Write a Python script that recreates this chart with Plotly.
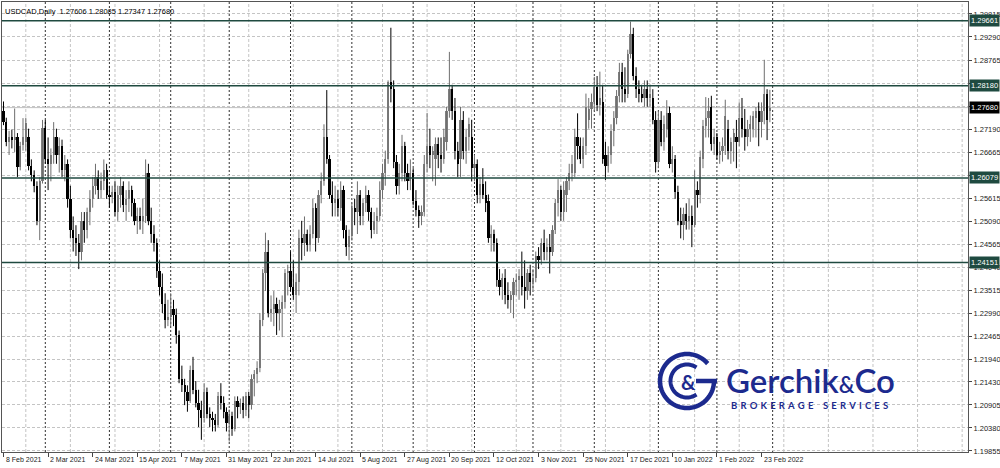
import math
import plotly.graph_objects as go

# ---------------- data ----------------
date_labels = ["8 Feb 2021", "2 Mar 2021", "24 Mar 2021", "15 Apr 2021", "7 May 2021",
               "31 May 2021", "22 Jun 2021", "14 Jul 2021", "5 Aug 2021", "27 Aug 2021",
               "20 Sep 2021", "12 Oct 2021", "3 Nov 2021", "25 Nov 2021", "17 Dec 2021",
               "10 Jan 2022", "1 Feb 2022", "23 Feb 2022"]
label_bars = [0, 16, 32, 48, 64, 80, 96, 112, 128, 144, 160, 176, 192, 208, 224, 240, 256, 272]
month_start_bars = [15, 38, 60, 81, 103, 125, 147, 169, 190, 212, 235, 256, 276]

open_ = [
    1.2760, 1.2735, 1.2690, 1.2702, 1.2695, 1.2700, 1.2632, 1.2683, 1.2690, 1.2700, 1.2635, 1.2615, 1.2590, 1.2510, 1.2600,
    1.2722, 1.2650, 1.2640, 1.2660, 1.2700, 1.2660, 1.2680, 1.2625, 1.2640, 1.2560, 1.2490, 1.2470, 1.2460, 1.2440, 1.2510, 1.2490, 1.2530, 1.2560, 1.2590, 1.2610, 1.2580, 1.2600, 1.2625,
    1.2570, 1.2565, 1.2575, 1.2530, 1.2570, 1.2590, 1.2545, 1.2560, 1.2580, 1.2550, 1.2510, 1.2520, 1.2510, 1.2520, 1.2620, 1.2510, 1.2480, 1.2460, 1.2395, 1.2360, 1.2320, 1.2285,
    1.2290, 1.2310, 1.2295, 1.2250, 1.2150, 1.2135, 1.2120, 1.2100, 1.2170, 1.2125, 1.2095, 1.2080, 1.2060, 1.2120, 1.2070, 1.2060, 1.2055, 1.2045, 1.2110, 1.2095, 1.2075,
    1.2050, 1.2065, 1.2035, 1.2100, 1.2085, 1.2095, 1.2080, 1.2110, 1.2090, 1.2150, 1.2160, 1.2175, 1.2285, 1.2390, 1.2440, 1.2300, 1.2310, 1.2320, 1.2300, 1.2310, 1.2325, 1.2390,
    1.2395, 1.2360, 1.2340, 1.2370, 1.2470, 1.2460, 1.2480, 1.2455, 1.2480, 1.2540, 1.2470, 1.2570, 1.2600, 1.2700, 1.2650, 1.2570, 1.2550, 1.2560, 1.2540, 1.2580, 1.2490, 1.2450,
    1.2475, 1.2540, 1.2530, 1.2570, 1.2520, 1.2550, 1.2570, 1.2530, 1.2490, 1.2510, 1.2520, 1.2580, 1.2620, 1.2650, 1.2826, 1.2810, 1.2645, 1.2590, 1.2620, 1.2680, 1.2620, 1.2600,
    1.2620, 1.2555, 1.2535, 1.2520, 1.2530, 1.2640, 1.2680, 1.2660, 1.2650, 1.2685, 1.2660, 1.2650, 1.2690, 1.2760, 1.2810, 1.2760, 1.2670, 1.2650, 1.2740, 1.2670, 1.2700, 1.2700,
    1.2630, 1.2640, 1.2570, 1.2595, 1.2570, 1.2555, 1.2470, 1.2480, 1.2460, 1.2375, 1.2360, 1.2380, 1.2340, 1.2330, 1.2340, 1.2370, 1.2375, 1.2385, 1.2360, 1.2350, 1.2390,
    1.2370, 1.2380, 1.2430, 1.2420, 1.2460, 1.2440, 1.2450, 1.2440, 1.2490, 1.2550, 1.2580, 1.2530, 1.2570, 1.2600, 1.2620, 1.2620, 1.2700, 1.2680, 1.2650, 1.2680, 1.2740, 1.2765,
    1.2780, 1.2815, 1.2775, 1.2780, 1.2660, 1.2635, 1.2660, 1.2715, 1.2745, 1.2795, 1.2850, 1.2810, 1.2800, 1.2890, 1.2935, 1.2840, 1.2810, 1.2800, 1.2790, 1.2810, 1.2790, 1.2790, 1.2740,
    1.2645, 1.2740, 1.2690, 1.2720, 1.2755, 1.2640, 1.2650, 1.2575, 1.2510, 1.2500, 1.2525, 1.2510, 1.2520, 1.2500, 1.2580, 1.2570, 1.2650, 1.2725, 1.2745, 1.2770, 1.2685,
    1.2700, 1.2660, 1.2670, 1.2680, 1.2720, 1.2670, 1.2690, 1.2700, 1.2690, 1.2745, 1.2720, 1.2700, 1.2720, 1.2720, 1.2745, 1.2760, 1.2735, 1.2760, 1.2800, 1.27606,
]
high = [
    1.2782, 1.2745, 1.2715, 1.2718, 1.2766, 1.2710, 1.2690, 1.2744, 1.2745, 1.2720, 1.2650, 1.2625, 1.2600, 1.2610, 1.2740,
    1.2740, 1.2700, 1.2675, 1.2735, 1.2720, 1.2700, 1.2695, 1.2660, 1.2650, 1.2590, 1.2520, 1.2500, 1.2480, 1.2530, 1.2530, 1.2540, 1.2580, 1.2610, 1.2640, 1.2625, 1.2620, 1.2650, 1.2640,
    1.2590, 1.2590, 1.2600, 1.2590, 1.2610, 1.2600, 1.2580, 1.2600, 1.2590, 1.2560, 1.2540, 1.2540, 1.2560, 1.2650, 1.2640, 1.2540, 1.2500, 1.2470, 1.2420, 1.2390, 1.2345, 1.2330,
    1.2345, 1.2330, 1.2310, 1.2260, 1.2180, 1.2150, 1.2135, 1.2180, 1.2200, 1.2145, 1.2125, 1.2100, 1.2140, 1.2130, 1.2085, 1.2075, 1.2070, 1.2120, 1.2140, 1.2110, 1.2085,
    1.2080, 1.2075, 1.2110, 1.2110, 1.2105, 1.2110, 1.2120, 1.2120, 1.2160, 1.2170, 1.2190, 1.2300, 1.2400, 1.2483, 1.2466, 1.2340, 1.2350, 1.2335, 1.2330, 1.2340, 1.2400, 1.2410,
    1.2440, 1.2420, 1.2390, 1.2490, 1.2510, 1.2520, 1.2490, 1.2500, 1.2560, 1.2550, 1.2580, 1.2620, 1.2730, 1.2808, 1.2660, 1.2600, 1.2590, 1.2580, 1.2600, 1.2590, 1.2500, 1.2490,
    1.2550, 1.2560, 1.2600, 1.2580, 1.2560, 1.2590, 1.2580, 1.2540, 1.2530, 1.2540, 1.2600, 1.2640, 1.2670, 1.2830, 1.2950, 1.2830, 1.2660, 1.2640, 1.2706, 1.2690, 1.2640, 1.2650,
    1.2630, 1.2580, 1.2545, 1.2545, 1.2660, 1.2756, 1.2720, 1.2680, 1.2700, 1.2700, 1.2700, 1.2720, 1.2770, 1.2895, 1.2820, 1.2790, 1.2690, 1.2770, 1.2760, 1.2720, 1.2745, 1.2740,
    1.2660, 1.2650, 1.2610, 1.2630, 1.2600, 1.2570, 1.2500, 1.2490, 1.2470, 1.2400, 1.2390, 1.2400, 1.2370, 1.2350, 1.2380, 1.2390, 1.2400, 1.2440, 1.2420, 1.2400, 1.2410,
    1.2400, 1.2440, 1.2450, 1.2470, 1.2490, 1.2470, 1.2480, 1.2500, 1.2560, 1.2605, 1.2590, 1.2600, 1.2610, 1.2640, 1.2660, 1.2720, 1.2755, 1.2700, 1.2700, 1.2800, 1.2790, 1.2800,
    1.2838, 1.2840, 1.2850, 1.2820, 1.2690, 1.2680, 1.2730, 1.2760, 1.2808, 1.2870, 1.2870, 1.2860, 1.2900, 1.2964, 1.2950, 1.2860, 1.2830, 1.2820, 1.2830, 1.2830, 1.2820, 1.2810, 1.2760,
    1.2760, 1.2760, 1.2750, 1.2785, 1.2770, 1.2680, 1.2660, 1.2590, 1.2540, 1.2540, 1.2550, 1.2560, 1.2545, 1.2625, 1.2600, 1.2670, 1.2740, 1.2792, 1.2790, 1.2795, 1.2720,
    1.2710, 1.2690, 1.2700, 1.2786, 1.2740, 1.2700, 1.2720, 1.2740, 1.2780, 1.2790, 1.2765, 1.2740, 1.2750, 1.2760, 1.2770, 1.2780, 1.2780, 1.2877, 1.2810, 1.28085,
]
low = [
    1.2728, 1.2680, 1.2660, 1.2675, 1.2667, 1.2610, 1.2625, 1.2670, 1.2670, 1.2625, 1.2600, 1.2575, 1.2500, 1.2466, 1.2595,
    1.2640, 1.2580, 1.2600, 1.2640, 1.2640, 1.2620, 1.2610, 1.2600, 1.2540, 1.2470, 1.2440, 1.2430, 1.2400, 1.2420, 1.2460, 1.2470, 1.2500, 1.2540, 1.2570, 1.2560, 1.2560, 1.2580, 1.2560,
    1.2540, 1.2550, 1.2520, 1.2510, 1.2540, 1.2530, 1.2510, 1.2530, 1.2520, 1.2500, 1.2480, 1.2490, 1.2480, 1.2505, 1.2500, 1.2460, 1.2440, 1.2380, 1.2340, 1.2300, 1.2265, 1.2270,
    1.2270, 1.2270, 1.2230, 1.2140, 1.2120, 1.2090, 1.2075, 1.2095, 1.2115, 1.2085, 1.2040, 1.2011, 1.2050, 1.2060, 1.2040, 1.2030, 1.2030, 1.2040, 1.2080, 1.2060, 1.2030,
    1.2007, 1.2020, 1.2030, 1.2060, 1.2070, 1.2060, 1.2065, 1.2060, 1.2080, 1.2110, 1.2140, 1.2165, 1.2270, 1.2350, 1.2290, 1.2280, 1.2270, 1.2250, 1.2260, 1.2245, 1.2310, 1.2340,
    1.2350, 1.2330, 1.2300, 1.2340, 1.2420, 1.2430, 1.2440, 1.2440, 1.2470, 1.2440, 1.2460, 1.2550, 1.2590, 1.2640, 1.2560, 1.2520, 1.2520, 1.2520, 1.2510, 1.2470, 1.2430, 1.2420,
    1.2465, 1.2500, 1.2480, 1.2500, 1.2500, 1.2530, 1.2510, 1.2470, 1.2480, 1.2480, 1.2510, 1.2560, 1.2590, 1.2640, 1.2780, 1.2630, 1.2570, 1.2570, 1.2600, 1.2600, 1.2580, 1.2580,
    1.2545, 1.2520, 1.2494, 1.2500, 1.2520, 1.2620, 1.2630, 1.2600, 1.2590, 1.2630, 1.2620, 1.2640, 1.2670, 1.2745, 1.2740, 1.2650, 1.2610, 1.2610, 1.2650, 1.2640, 1.2670, 1.2600,
    1.2600, 1.2550, 1.2550, 1.2560, 1.2530, 1.2460, 1.2440, 1.2440, 1.2360, 1.2340, 1.2330, 1.2320, 1.2310, 1.2300, 1.2288, 1.2340, 1.2330, 1.2340, 1.2310, 1.2330, 1.2340,
    1.2350, 1.2370, 1.2400, 1.2410, 1.2420, 1.2420, 1.2390, 1.2430, 1.2480, 1.2520, 1.2510, 1.2510, 1.2530, 1.2580, 1.2600, 1.2610, 1.2650, 1.2640, 1.2630, 1.2660, 1.2720, 1.2720,
    1.2760, 1.2760, 1.2750, 1.2640, 1.2603, 1.2620, 1.2640, 1.2680, 1.2730, 1.2780, 1.2780, 1.2780, 1.2790, 1.2880, 1.2830, 1.2790, 1.2780, 1.2780, 1.2770, 1.2770, 1.2770, 1.2730, 1.2620,
    1.2630, 1.2680, 1.2670, 1.2700, 1.2630, 1.2620, 1.2560, 1.2500, 1.2470, 1.2466, 1.2490, 1.2490, 1.2450, 1.2495, 1.2540, 1.2550, 1.2630, 1.2700, 1.2700, 1.2670, 1.2660,
    1.2650, 1.2640, 1.2645, 1.2660, 1.2650, 1.2640, 1.2645, 1.2630, 1.2680, 1.2700, 1.2670, 1.2680, 1.2690, 1.2700, 1.2700, 1.2680, 1.2700, 1.2730, 1.2694, 1.27347,
]
close_ = [
    1.2735, 1.2690, 1.2702, 1.2695, 1.2700, 1.2632, 1.2680, 1.2700, 1.2733, 1.2635, 1.2615, 1.2590, 1.2510, 1.2600, 1.2722,
    1.2650, 1.2640, 1.2660, 1.2700, 1.2660, 1.2680, 1.2625, 1.2640, 1.2560, 1.2490, 1.2470, 1.2460, 1.2440, 1.2510, 1.2490, 1.2530, 1.2560, 1.2590, 1.2610, 1.2580, 1.2600, 1.2625, 1.2570,
    1.2565, 1.2575, 1.2530, 1.2570, 1.2590, 1.2545, 1.2560, 1.2580, 1.2550, 1.2510, 1.2520, 1.2510, 1.2520, 1.2620, 1.2510, 1.2480, 1.2460, 1.2395, 1.2360, 1.2320, 1.2285, 1.2290,
    1.2310, 1.2295, 1.2250, 1.2150, 1.2135, 1.2120, 1.2100, 1.2170, 1.2125, 1.2095, 1.2080, 1.2060, 1.2120, 1.2070, 1.2060, 1.2055, 1.2045, 1.2110, 1.2095, 1.2075, 1.2050,
    1.2065, 1.2035, 1.2100, 1.2085, 1.2095, 1.2080, 1.2110, 1.2090, 1.2150, 1.2160, 1.2175, 1.2285, 1.2390, 1.2440, 1.2300, 1.2310, 1.2320, 1.2300, 1.2310, 1.2325, 1.2390, 1.2395,
    1.2360, 1.2340, 1.2370, 1.2470, 1.2460, 1.2480, 1.2455, 1.2480, 1.2540, 1.2470, 1.2570, 1.2600, 1.2700, 1.2650, 1.2570, 1.2550, 1.2560, 1.2540, 1.2580, 1.2490, 1.2450, 1.2475,
    1.2540, 1.2530, 1.2570, 1.2520, 1.2550, 1.2570, 1.2530, 1.2490, 1.2510, 1.2520, 1.2580, 1.2620, 1.2650, 1.2826, 1.2810, 1.2645, 1.2590, 1.2620, 1.2680, 1.2620, 1.2600, 1.2620,
    1.2555, 1.2535, 1.2520, 1.2530, 1.2640, 1.2680, 1.2660, 1.2670, 1.2685, 1.2660, 1.2650, 1.2700, 1.2760, 1.2810, 1.2760, 1.2670, 1.2640, 1.2740, 1.2670, 1.2700, 1.2730, 1.2630,
    1.2640, 1.2570, 1.2595, 1.2570, 1.2550, 1.2470, 1.2480, 1.2460, 1.2375, 1.2360, 1.2380, 1.2340, 1.2330, 1.2340, 1.2370, 1.2375, 1.2385, 1.2360, 1.2350, 1.2390, 1.2370,
    1.2380, 1.2430, 1.2420, 1.2460, 1.2440, 1.2450, 1.2440, 1.2490, 1.2550, 1.2580, 1.2530, 1.2580, 1.2600, 1.2620, 1.2640, 1.2700, 1.2680, 1.2650, 1.2680, 1.2770, 1.2765, 1.2780,
    1.2815, 1.2775, 1.2790, 1.2650, 1.2635, 1.2660, 1.2715, 1.2745, 1.2795, 1.2850, 1.2810, 1.2800, 1.2890, 1.2935, 1.2840, 1.2810, 1.2800, 1.2790, 1.2810, 1.2790, 1.2800, 1.2740, 1.2645,
    1.2740, 1.2690, 1.2730, 1.2755, 1.2640, 1.2650, 1.2575, 1.2510, 1.2500, 1.2525, 1.2510, 1.2520, 1.2500, 1.2580, 1.2570, 1.2655, 1.2725, 1.2745, 1.2760, 1.2685, 1.2700,
    1.2660, 1.2670, 1.2680, 1.2750, 1.2670, 1.2690, 1.2710, 1.2690, 1.2745, 1.2720, 1.2700, 1.2720, 1.2730, 1.2750, 1.2760, 1.2735, 1.2760, 1.2800, 1.2740, 1.27680,
]

price_ticks = [1.29815, 1.29290, 1.28765, 1.28240, 1.27715, 1.27190, 1.26665, 1.26140, 1.25615,
               1.25090, 1.24565, 1.24040, 1.23515, 1.22990, 1.22465, 1.21940, 1.21430, 1.20905,
               1.20380, 1.19855]
hidden_ticks = [1.28240, 1.27715, 1.26140]   # covered by the level / price boxes in the source
level_prices = [1.29661, 1.28180, 1.26079, 1.24151]
last_price = 1.27680
title_text = "USDCAD,Daily  1.27606 1.28085 1.27347 1.27680"

# ---------------- layout geometry ----------------
W, H = 1000, 468
ML, MR, MT, MB = 2, 32, 2, 16
PW, PH = W - ML - MR, H - MT - MB


def pxx(x):
    return (x - ML) / PW


def pxy(y):
    return 1 - (y - MT) / PH


n = len(close_)
xs = list(range(n))
hi = [max(high[i], open_[i], close_[i]) for i in xs]
lo = [min(low[i], open_[i], close_[i]) for i in xs]
bull = [i for i in xs if close_[i] >= open_[i]]
bear = [i for i in xs if close_[i] < open_[i]]

BULL = "#808080"
BEAR = "#000000"
FONT = "Liberation Sans, Arial, sans-serif"

fig = go.Figure()


def wick(idx, color):
    wx, wy = [], []
    for i in idx:
        wx += [i, i, None]
        wy += [lo[i], hi[i], None]
    return go.Scatter(x=wx, y=wy, mode="lines", line=dict(color=color, width=1),
                      hoverinfo="skip", showlegend=False)


def body(idx, color):
    base = [min(open_[i], close_[i]) for i in idx]
    hgt = [max(abs(close_[i] - open_[i]), 0.00012) for i in idx]
    return go.Bar(x=idx, y=hgt, base=base, width=0.8,
                  marker=dict(color=color, line=dict(width=0)), showlegend=False,
                  hoverinfo="skip")


fig.add_trace(wick(bull, "#6e6e6e"))
fig.add_trace(wick(bear, BEAR))
fig.add_trace(body(bull, BULL))
fig.add_trace(body(bear, BEAR))

shapes = []
for b in range(8, 347, 16):
    shapes.append(dict(type="line", xref="x", yref="paper", x0=b, x1=b, y0=0, y1=1,
                       line=dict(color="#c4c4c4", width=1, dash="3px,2px"), layer="below"))
for b in month_start_bars:
    shapes.append(dict(type="line", xref="x", yref="paper", x0=b, x1=b, y0=0, y1=1,
                       line=dict(color="#303030", width=1, dash="2px,2px"), layer="below"))
shapes.append(dict(type="line", xref="paper", yref="y", x0=0, x1=1, y0=last_price, y1=last_price,
                   line=dict(color="#c0c0c0", width=1), layer="below"))
for lv in level_prices:
    shapes.append(dict(type="line", xref="paper", yref="y", x0=0, x1=1, y0=lv, y1=lv,
                       line=dict(color="#1f4a40", width=1.5), layer="above"))

# ---------------- logo ----------------
NAVY = "#1c2a8e"
cx, cy = 687, 381


def arc_path(r, a0, a1, extra=None):
    pts = []
    a = a0
    while a <= a1 + 1e-9:
        rad = math.radians(a)
        pts.append((cx + r * math.cos(rad), cy - r * math.sin(rad)))
        a += 5
    if extra:
        pts += extra
    return "M " + " L ".join(f"{pxx(x):.5f},{pxy(y):.5f}" for x, y in pts)


shapes.append(dict(type="path", xref="paper", yref="paper",
                   path=arc_path(27, 40, 360, extra=[(cx + 30, cy), (cx + 9, cy)]),
                   line=dict(color=NAVY, width=4.5), layer="above"))
shapes.append(dict(type="path", xref="paper", yref="paper",
                   path=arc_path(16.5, 55, 305),
                   line=dict(color=NAVY, width=4), layer="above"))

annotations = []
annotations.append(dict(text=title_text, xref="paper", yref="paper", x=0, y=1,
                        xanchor="left", yanchor="top", xshift=1, yshift=-3, showarrow=False,
                        font=dict(family=FONT, size=7.5, color="#000")))
for b, t in zip(label_bars, date_labels):
    annotations.append(dict(text=t, xref="x", yref="paper", x=b, y=0, xanchor="left",
                            yanchor="top", xshift=0, yshift=-2, showarrow=False,
                            font=dict(family=FONT, size=7, color="#222")))
for lv in level_prices:
    annotations.append(dict(text=f"{lv:.5f}", xref="paper", yref="y", x=1, y=lv,
                            xanchor="left", yanchor="middle", xshift=1, showarrow=False,
                            bgcolor="#1f4a40", borderpad=1,
                            font=dict(family=FONT, size=7.5, color="#ffffff")))
annotations.append(dict(text=f"{last_price:.5f}", xref="paper", yref="y", x=1, y=last_price,
                        xanchor="left", yanchor="middle", xshift=1, showarrow=False,
                        bgcolor="#000000", borderpad=1,
                        font=dict(family=FONT, size=7.5, color="#ffffff")))
annotations.append(dict(text="&", xref="paper", yref="paper", x=pxx(cx + 1), y=pxy(cy + 1),
                        xanchor="center", yanchor="middle", showarrow=False,
                        font=dict(family="Lato, Inter", size=20, color=NAVY, weight=700)))
annotations.append(dict(text="Gerchik<span style='font-size:22px'>&</span>Co", xref="paper",
                        yref="paper", x=pxx(724), y=pxy(380), xanchor="left", yanchor="middle",
                        showarrow=False,
                        font=dict(family="Lato, Inter", size=33, color=NAVY, weight=600)))
sp = "\u2004"
annotations.append(dict(text=sp.join("BROKERAGE") + sp * 3 + sp.join("SERVICES"), xref="paper",
                        yref="paper", x=pxx(729), y=pxy(405), xanchor="left", yanchor="middle",
                        showarrow=False,
                        font=dict(family="Lato, Inter", size=9.5, color=NAVY, weight=700)))

fig.update_layout(
    width=W, height=H,
    margin=dict(l=ML, r=MR, t=MT, b=MB),
    paper_bgcolor="#ffffff", plot_bgcolor="#ffffff",
    barmode="overlay", bargap=0, showlegend=False, hovermode=False,
    shapes=shapes, annotations=annotations,
    xaxis=dict(range=[-0.54, 346.1], showgrid=False, zeroline=False,
               tickvals=label_bars, ticks="outside", ticklen=4, tickcolor="#444",
               showticklabels=False, showline=True, linecolor="#555", linewidth=1, mirror=True),
    yaxis=dict(range=[1.19832, 1.30087], side="right", tickvals=price_ticks,
               ticktext=["" if v in hidden_ticks else f"{v:.5f}" for v in price_ticks],
               ticks="outside", ticklen=3,
               tickcolor="#444", tickfont=dict(family=FONT, size=7.5, color="#222"),
               showgrid=True, gridcolor="#c4c4c4", griddash="3px,2px", gridwidth=1,
               zeroline=False, showline=True, linecolor="#555", linewidth=1, mirror=True,
               automargin=False),
)

fig.write_html("out.html", config={"displayModeBar": False, "staticPlot": True},
               post_script="document.body.style.margin='0px';document.body.style.overflow='hidden';")
